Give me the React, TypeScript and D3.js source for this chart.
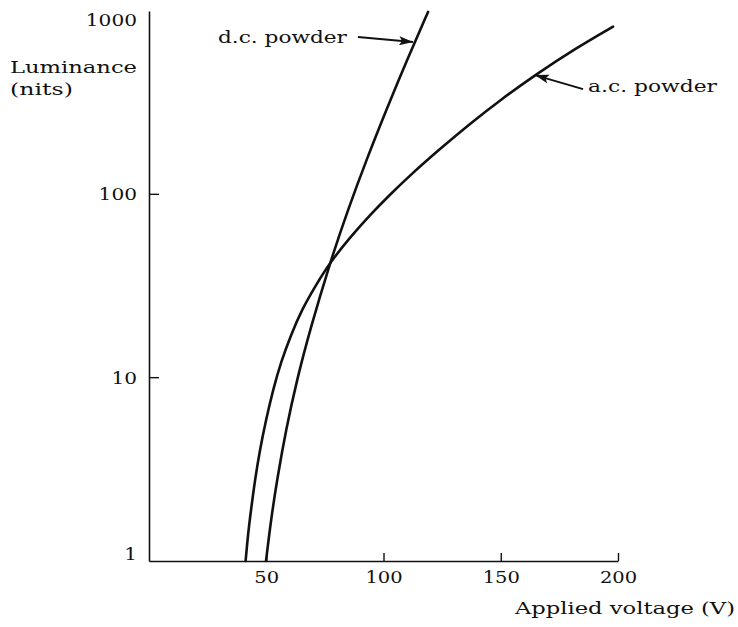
import { useRef, useEffect } from "react";
import * as d3 from "d3";

// axis ticks
const voltageTicks = [50, 100, 150, 200];
const luminanceTicks = [1, 10, 100, 1000];

// a.c. powder curve (V, nits)
const acVoltage = [41.2, 42.2, 43.5, 45.2, 47.3, 49.9, 52.9, 56.3, 60.6, 65.2, 70.8, 77.2, 85.7, 94.2, 102.8, 111.3, 124.1, 136.9, 149.7, 164.6, 181.7, 197.9];
const acLuminance = [1.0, 1.39, 1.9, 2.77, 4.04, 5.89, 8.6, 12.2, 17.2, 23.5, 31.4, 42.5, 58.2, 77.1, 99.7, 127, 177, 243, 326, 447, 623, 822];

// d.c. powder curve
const dcVoltage = [49.9, 52.0, 54.6, 58.4, 63.1, 68.7, 77.2, 84.9, 92.8, 101.3, 110.2, 119.0];
const dcLuminance = [1.0, 1.67, 2.77, 5.2, 9.75, 18.3, 42.5, 82.8, 155, 291, 547, 988];

// arrow labels: tail and tip in data units
const callouts = [
  { text: "d.c. powder", tail: [89.1, 721], tip: [112.6, 677], side: "left" },
  { text: "a.c. powder", tail: [185.1, 375], tip: [164.6, 447], side: "right" },
];

const FONT = "'DejaVu Serif', serif";

export default function App() {
  const ref = useRef<SVGSVGElement>(null);

  useEffect(() => {
    const svg = d3.select(ref.current);
    svg.selectAll("*").remove();

    const x = d3.scaleLinear().domain([0, 200]).range([149, 618]);
    const y = d3.scaleLog().domain([1, 1000]).range([561, 11]);

    svg.append("defs")
      .append("marker")
      .attr("id", "head")
      .attr("markerUnits", "userSpaceOnUse")
      .attr("markerWidth", 15)
      .attr("markerHeight", 9)
      .attr("refX", 14)
      .attr("refY", 4.5)
      .attr("orient", "auto")
      .append("path")
      .attr("d", "M0,0L14,4.5L0,9L3,4.5z")
      .attr("fill", "#111");

    // x axis
    const gx = svg.append("g")
      .attr("transform", `translate(0,${y(1)})`)
      .call(d3.axisBottom(x).tickValues(voltageTicks).tickSizeInner(-8).tickSizeOuter(0).tickFormat(d3.format("d")));
    gx.select(".domain").attr("stroke", "#111").attr("stroke-width", 1.6);
    gx.selectAll(".tick line").attr("stroke", "#111").attr("stroke-width", 1.4);
    gx.selectAll(".tick text")
      .attr("y", 22)
      .attr("dy", 0)
      .attr("fill", "#111")
      .attr("font-family", FONT)
      .attr("font-size", 17)
      .attr("textLength", (d: any) => String(d).length * 12.4)
      .attr("lengthAdjust", "spacingAndGlyphs");

    // y axis
    const gy = svg.append("g")
      .attr("transform", `translate(${x(0)},0)`)
      .call(d3.axisLeft(y).tickValues(luminanceTicks).tickSizeInner(-10).tickSizeOuter(0).tickFormat(d3.format("d")));
    gy.select(".domain").attr("stroke", "#111").attr("stroke-width", 1.6);
    const labelY = (d: number) => Math.min(Math.max(y(d), 20), 554);
    gy.selectAll(".tick")
      .attr("transform", (d: any) => `translate(0,${labelY(d)})`);
    gy.selectAll(".tick line")
      .attr("stroke", "#111")
      .attr("stroke-width", 1.4)
      .attr("x2", (d: any) => (d === 1 || d === 1000 ? 0 : 10))
      .attr("transform", (d: any) => `translate(0,${y(d) - labelY(d)})`);
    gy.selectAll(".tick text")
      .attr("x", -12)
      .attr("dy", "0.36em")
      .attr("fill", "#111")
      .attr("font-family", FONT)
      .attr("font-size", 17)
      .attr("textLength", (d: any) => String(d).length * 12.8)
      .attr("lengthAdjust", "spacingAndGlyphs");

    // axis titles
    const title = (t: string, tx: number, ty: number, len: number) =>
      svg.append("text")
        .attr("x", tx)
        .attr("y", ty)
        .attr("font-family", FONT)
        .attr("font-size", 17)
        .attr("fill", "#111")
        .attr("textLength", len)
        .attr("lengthAdjust", "spacingAndGlyphs")
        .text(t);
    title("Luminance", 10, 73, 127);
    title("(nits)", 10, 95, 63);
    title("Applied voltage (V)", x(200) - 103, y(1) + 53, 220);

    // curves
    const line = d3.line<[number, number]>()
      .x((d) => x(d[0]))
      .y((d) => y(d[1]))
      .curve(d3.curveBasis);

    const series = [
      acVoltage.map((v, i) => [v, acLuminance[i]] as [number, number]),
      dcVoltage.map((v, i) => [v, dcLuminance[i]] as [number, number]),
    ];
    series.forEach((pts) => {
      svg.append("path")
        .datum(pts)
        .attr("fill", "none")
        .attr("stroke", "#111")
        .attr("stroke-width", 2.6)
        .attr("stroke-linecap", "round")
        .attr("d", line);
    });

    // callouts
    callouts.forEach((c) => {
      const tx = x(c.tail[0]);
      const ty = y(c.tail[1]);
      svg.append("line")
        .attr("x1", tx)
        .attr("y1", ty)
        .attr("x2", x(c.tip[0]))
        .attr("y2", y(c.tip[1]))
        .attr("stroke", "#111")
        .attr("stroke-width", 2)
        .attr("marker-end", "url(#head)");
      svg.append("text")
        .attr("x", c.side === "left" ? tx - 11 : tx + 5)
        .attr("y", ty + (c.side === "left" ? 6 : 3))
        .attr("text-anchor", c.side === "left" ? "end" : "start")
        .attr("font-family", FONT)
        .attr("font-size", 17)
        .attr("fill", "#111")
        .attr("textLength", 129)
        .attr("lengthAdjust", "spacingAndGlyphs")
        .text(c.text);
    });
  }, []);

  return (
    <svg
      ref={ref}
      width={738}
      height={627}
      style={{ position: "absolute", left: 0, top: 0, background: "#fff" }}
    />
  );
}
